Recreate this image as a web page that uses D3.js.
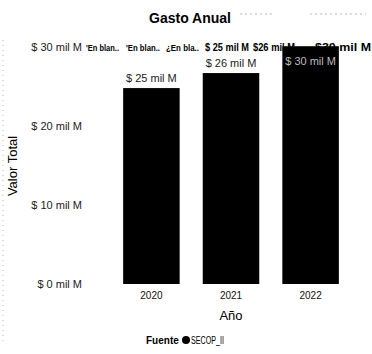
<!DOCTYPE html>
<html><head><meta charset="utf-8">
<script src="https://cdn.jsdelivr.net/npm/d3@7"></script>
<style>body{margin:0;background:#fff}svg{display:block}text{font-family:"Liberation Sans",Arial,sans-serif}</style>
</head><body><svg id="c" width="372" height="354"></svg>
<script>
const years = ["2020","2021","2022"];
const values = [24.8, 26.7, 30.1];
const valueLabels = ["$ 25 mil M","$ 26 mil M","$ 30 mil M"];
const yTicks = [0,10,20,30];
const yTickLabels = ["$ 0 mil M","$ 10 mil M","$ 20 mil M","$ 30 mil M"];
const ribbonTexts = ["'En blan..","'En blan..","¿En bla..","$ 25 mil M","$26 mil M","$30 mil M"];
const legendItems = ["SECOP_II"];

const svg = d3.select("#c");
const x = d3.scaleBand().domain(years).range([112, 350]).paddingInner(0.29).paddingOuter(0.14);
const y = d3.scaleLinear().domain([0,30]).range([284, 47]);

// faint scan artifacts
svg.append("line").attr("x1",3).attr("x2",3).attr("y1",40).attr("y2",345)
  .attr("stroke","#bbb").attr("stroke-dasharray","1,4").attr("stroke-width",1);
svg.append("line").attr("x1",240).attr("x2",272).attr("y1",14).attr("y2",14)
  .attr("stroke","#bbb").attr("stroke-dasharray","2,3");
svg.append("line").attr("x1",310).attr("x2",366).attr("y1",14).attr("y2",14)
  .attr("stroke","#bbb").attr("stroke-dasharray","2,3");

// title
svg.append("text").attr("x",190).attr("y",23).attr("text-anchor","middle")
  .attr("font-size",14).attr("font-weight","bold").text("Gasto Anual");

// ribbon of labels (behind bars), compressed into their slots
const ribbonX = [86, 126, 166, 205, 253, 315];
const ribbonW = [33, 34, 33, 44, 42, 56];
svg.append("g").selectAll("text").data(ribbonTexts).join("text")
  .attr("x",(d,i)=>ribbonX[i]).attr("y",51).attr("font-size",(d,i)=> i<3 ? 8.5 : 10).attr("font-weight","bold")
  .attr("textLength",(d,i)=>ribbonW[i]).attr("lengthAdjust","spacingAndGlyphs")
  .text(d=>d);

// y axis
const yAxis = d3.axisLeft(y).tickValues(yTicks).tickFormat((d,i)=>yTickLabels[i]).tickSize(0).tickPadding(0);
const ga = svg.append("g").attr("transform","translate(82,0)").call(yAxis);
ga.select(".domain").remove();
ga.selectAll("text").attr("font-size",11).attr("font-family","Liberation Sans, sans-serif").attr("fill","#222");

svg.append("text").attr("transform","translate(17,166) rotate(-90)").attr("text-anchor","middle")
  .attr("font-size",13).text("Valor Total");

// bars
svg.append("g").selectAll("rect").data(values).join("rect")
  .attr("x",(d,i)=>x(years[i])).attr("width",x.bandwidth())
  .attr("y",d=>y(d)).attr("height",d=>y(0)-y(d)).attr("fill","#000");

// value labels
svg.append("g").selectAll("text").data(values).join("text")
  .attr("x",(d,i)=>x(years[i])+x.bandwidth()/2)
  .attr("y",(d,i)=> i===2 ? y(d)+19 : y(d)-6)
  .attr("text-anchor","middle").attr("font-size",11)
  .attr("fill",(d,i)=> i===2 ? "#bbb" : "#222")
  .text((d,i)=>valueLabels[i]);

// x axis
const xAxis = d3.axisBottom(x).tickSize(0).tickPadding(0);
const gx = svg.append("g").attr("transform","translate(0,292)").call(xAxis);
gx.select(".domain").remove();
gx.selectAll("text").attr("font-size",10).attr("fill","#111").attr("dy","0.71em");

svg.append("text").attr("x",231).attr("y",320).attr("text-anchor","middle")
  .attr("font-size",13).text("Año");

// legend
svg.append("text").attr("x",146).attr("y",344).attr("font-size",10).attr("font-weight","bold").text("Fuente");
const lg = svg.append("g").selectAll("g").data(legendItems).join("g");
lg.append("circle").attr("cx",186).attr("cy",340).attr("r",4).attr("fill","#000");
lg.append("text").attr("x",191).attr("y",344).attr("font-size",10)
  .attr("textLength",33).attr("lengthAdjust","spacingAndGlyphs").text(d=>d);
</script></body></html>
